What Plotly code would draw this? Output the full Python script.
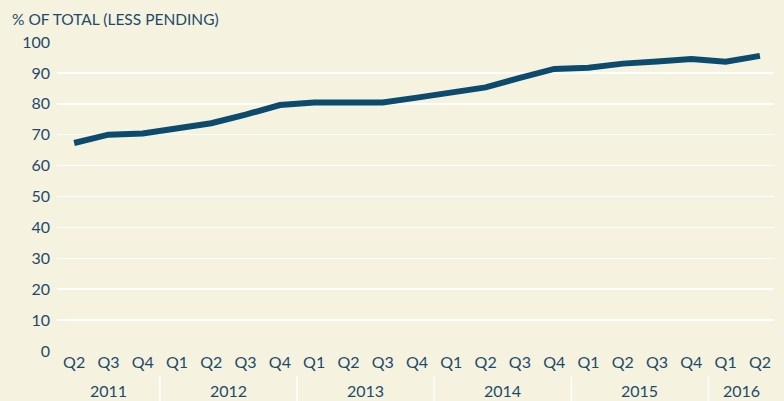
import plotly.graph_objects as go

quarters = ["Q2", "Q3", "Q4",
            "Q1", "Q2", "Q3", "Q4",
            "Q1", "Q2", "Q3", "Q4",
            "Q1", "Q2", "Q3", "Q4",
            "Q1", "Q2", "Q3", "Q4",
            "Q1", "Q2"]
years = ["2011", "2012", "2013", "2014", "2015", "2016"]
year_counts = [3, 4, 4, 4, 4, 2]
values = [67.3, 70.0, 70.4, 72.0, 73.7, 76.5, 79.6, 80.4, 80.4, 80.4, 82.0,
          83.6, 85.3, 88.4, 91.3, 91.7, 93.0, 93.7, 94.5, 93.6, 95.5]

BG = "#f5f3e0"
NAVY = "#0c4a6e"
TXT = "#1d4a6a"
FONT = "Lato"

idx = list(range(len(values)))

fig = go.Figure()
fig.add_trace(go.Scatter(x=idx, y=values, mode="lines",
                         line=dict(color=NAVY, width=6),
                         hoverinfo="skip", cliponaxis=False))

annotations = []
shapes = []
start = 0
for i, (yr, n) in enumerate(zip(years, year_counts)):
    end = start + n - 1
    center = (start + end) / 2
    if i == len(years) - 1:
        center = (start - 0.5 + 20.41) / 2
    annotations.append(dict(x=center, y=-0.129, xref="x", yref="paper",
                            text=yr, showarrow=False, xanchor="center",
                            yanchor="middle", font=dict(size=16, color=TXT, family=FONT)))
    if i < len(years) - 1:
        sep = end + 0.5
        shapes.append(dict(type="line", xref="x", yref="paper", x0=sep, x1=sep,
                           y0=-0.081, y1=-0.17, line=dict(color="white", width=1.5)))
    start += n

annotations.append(dict(x=-0.0656, y=1.075, xref="paper", yref="paper",
                        text="% OF TOTAL (LESS PENDING)", showarrow=False,
                        xanchor="left", yanchor="middle",
                        font=dict(size=15.5, color=TXT, family=FONT)))

fig.update_layout(
    width=784, height=401,
    margin=dict(l=57, r=10, t=42, b=50),
    paper_bgcolor=BG, plot_bgcolor=BG,
    showlegend=False,
    font=dict(family=FONT, color=TXT, size=16),
    annotations=annotations, shapes=shapes,
    xaxis=dict(range=[-0.5, 20.41], tickmode="array", tickvals=idx, ticktext=quarters,
               showgrid=False, zeroline=False, showline=False, ticks="",
               tickfont=dict(size=16, color=TXT, family=FONT), fixedrange=True),
    yaxis=dict(range=[0, 100], tickmode="array", tickvals=list(range(0, 101, 10)),
               showgrid=True, gridcolor="white", gridwidth=1.5, zeroline=False,
               showline=False, ticks="", ticklabelstandoff=6,
               tickfont=dict(size=16, color=TXT, family=FONT), fixedrange=True),
)

fig.write_html("out.html", config={"displayModeBar": False, "staticPlot": True},
               post_script="document.body.style.margin='0';document.body.style.background='%s';" % BG)
